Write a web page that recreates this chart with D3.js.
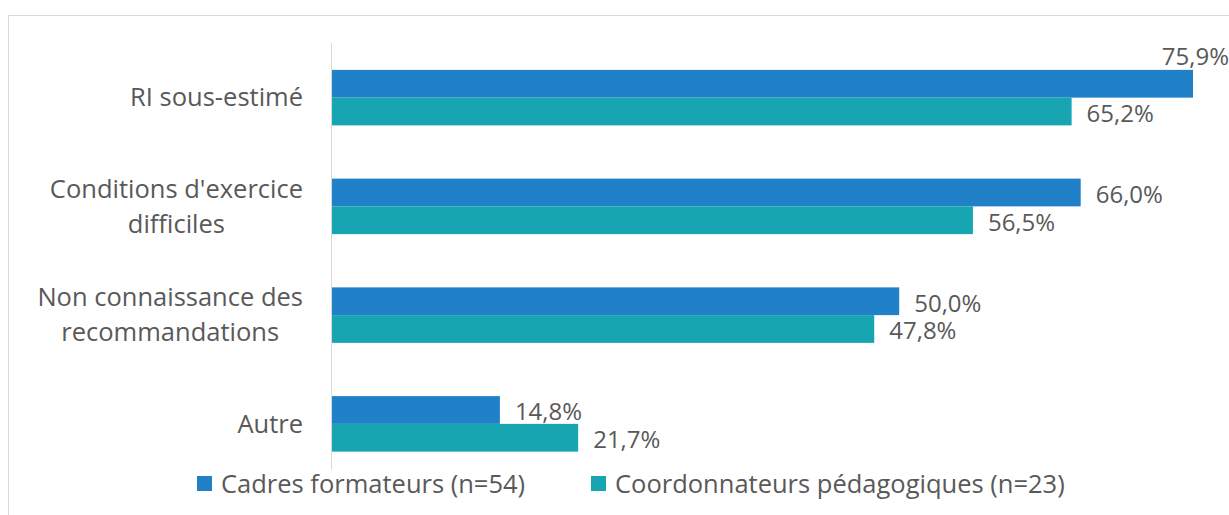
<!DOCTYPE html>
<html>
<head>
<meta charset="utf-8">
<script src="https://cdn.jsdelivr.net/npm/d3@7"></script>
<style>
  body { margin: 0; background: #fff; }
  text { font-family: "Open Sans", sans-serif; fill: #595959; }
</style>
</head>
<body>
<svg id="Viz"></svg>
<script>
var width = 1229,
    height = 515;

// data
var categories = [["RI sous-estimé"], ["Conditions d'exercice", "difficiles"], ["Non connaissance des", "recommandations"], ["Autre"]];
var seriesNames = ["Cadres formateurs (n=54)", "Coordonnateurs pédagogiques (n=23)"];
var cadres = [75.9, 66.0, 50.0, 14.8];
var coordonnateurs = [65.2, 56.5, 47.8, 21.7];
var colors = ["#2080c8", "#17a6b1"];

function draw() {
  var svg = d3.select("#Viz").attr("width", width).attr("height", height);

  // chart border
  svg.append("rect")
    .attr("x", 8.5).attr("y", 15.5)
    .attr("width", 1240).attr("height", 520)
    .attr("fill", "none").attr("stroke", "#d9d9d9");

  var x = d3.scaleLinear().domain([0, 75.9]).range([332, 1193]);
  var y = d3.scaleBand().domain(d3.range(categories.length)).range([43, 478]);
  var inner = d3.scaleBand().domain([0, 1]).range([0, 55.5]);

  var rows = [];
  categories.forEach(function(c, i) {
    rows.push({ cat: i, s: 0, v: cadres[i] });
    rows.push({ cat: i, s: 1, v: coordonnateurs[i] });
  });

  function barY(d) { return y(d.cat) + y.bandwidth() / 2 - 27.5 + inner(d.s); }

  svg.append("g")
    .selectAll("rect")
    .data(rows)
    .enter()
    .append("rect")
      .attr("x", x(0))
      .attr("y", barY)
      .attr("width", function(d) { return x(d.v) - x(0); })
      .attr("height", inner.bandwidth())
      .attr("fill", function(d) { return colors[d.s]; });

  // axis line
  svg.append("line")
    .attr("x1", x(0) - 0.5).attr("x2", x(0) - 0.5)
    .attr("y1", 43).attr("y2", 470)
    .style("stroke", "#d9d9d9");

  // value labels
  svg.append("g")
    .selectAll("text")
    .data(rows)
    .enter()
    .append("text")
      .attr("font-size", 24)
      .attr("text-anchor", function(d) { return x(d.v) + 80 > width ? "end" : "start"; })
      .attr("x", function(d) { return x(d.v) + 80 > width ? width : x(d.v) + 15; })
      .attr("y", function(d) { return x(d.v) + 80 > width ? barY(d) - 13 : barY(d) + inner.bandwidth() / 2 + 2; })
      .attr("dy", "0.35em")
      .text(function(d) { return d.v.toFixed(1).replace(".", ",") + "%"; });

  // category labels
  var cl = svg.append("g")
    .selectAll("text")
    .data(categories)
    .enter()
    .append("text")
      .attr("font-size", 25.5)
      .attr("transform", function(d, i) { return "translate(303," + (y(i) + y.bandwidth() / 2) + ")"; });
  cl.each(function(d) {
    var t = d3.select(this);
    var first = t.append("tspan")
      .attr("x", 0).attr("text-anchor", "end")
      .attr("y", -(d.length - 1) / 2 * 35).attr("dy", "0.35em")
      .text(d[0]);
    if (d.length > 1) {
      var w = first.node().getComputedTextLength();
      t.append("tspan")
        .attr("x", -w / 2).attr("text-anchor", "middle")
        .attr("y", 35 / 2).attr("dy", "0.35em")
        .text(d[1]);
    }
  });

  // legend
  var legX = [197, 591];
  var lg = svg.append("g")
    .selectAll("g")
    .data(seriesNames)
    .enter()
    .append("g")
      .attr("transform", function(d, i) { return "translate(" + legX[i] + ",476)"; });
  lg.append("rect").attr("width", 15).attr("height", 15)
    .attr("fill", function(d, i) { return colors[i]; });
  lg.append("text")
    .attr("x", 24).attr("y", 8).attr("dy", "0.35em")
    .attr("font-size", 25.5)
    .text(function(d) { return d; });
}

document.addEventListener('DOMContentLoaded', () => {
  draw();
});
</script>
</body>
</html>
